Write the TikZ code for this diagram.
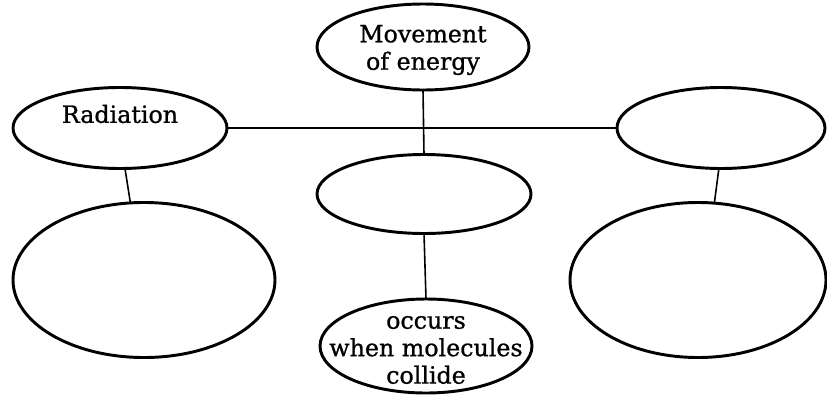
\documentclass[tikz,border=0pt]{standalone}
\usepackage{fontspec}
\setmainfont{DejaVu Serif}
\newfontfamily\lblfont{DejaVu Serif}[FakeBold=0.9]
\usetikzlibrary{shapes.geometric}
\tikzset{
  bubble/.style={draw, ellipse, line width=2.2pt, inner sep=0pt, outer sep=0pt},
  txt/.style={inner sep=0pt, align=center, font=\lblfont\fontsize{17.8pt}{20.6pt}\selectfont},
  link/.style={line width=1.2pt}
}
\begin{document}
\begin{tikzpicture}[x=0.75pt, y=-0.75pt]
\useasboundingbox (0,0) rectangle (827,396);
\node[bubble, minimum width=212*0.75pt, minimum height=86*0.75pt] (top) at (423,47) {};
\node[txt] (toptext) at (423,50) {Movement\\of energy};
\node[bubble, minimum width=214*0.75pt, minimum height=81*0.75pt] (rad) at (120,128) {};
\node[txt] (radtext) at (120,114) {Radiation};
\node[bubble, minimum width=208*0.75pt, minimum height=81*0.75pt] (rt) at (721,128) {};
\node[bubble, minimum width=214*0.75pt, minimum height=79*0.75pt] (mid) at (424,194) {};
\node[bubble, minimum width=262*0.75pt, minimum height=155*0.75pt] (lb) at (144,280) {};
\node[bubble, minimum width=256*0.75pt, minimum height=155*0.75pt] (rb) at (698,280) {};
\node[bubble, minimum width=212*0.75pt, minimum height=94*0.75pt] (bot) at (426,346) {};
\node[txt] (bottext) at (426,350) {occurs\\when molecules\\collide};
\draw[link] (rad.east) -- (rt.west);
\draw[link] (top.south) -- (mid.north);
\draw[link] (mid.south) -- (bot.north);
\draw[link] (rad.-83) -- (lb.100);
\draw[link] (rt.-93) -- (rb.78);
\end{tikzpicture}
\end{document}
